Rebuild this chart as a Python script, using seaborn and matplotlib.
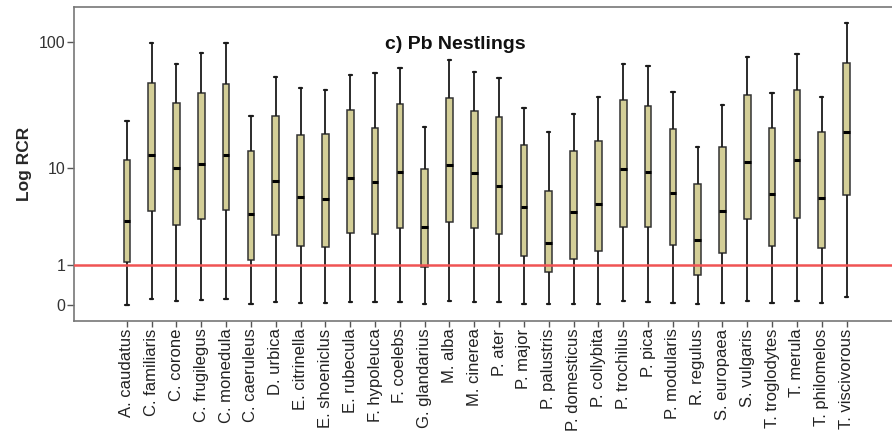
import numpy as np
import pandas as pd
import matplotlib
matplotlib.use("Agg")
import matplotlib.pyplot as plt
import seaborn as sns

species = ['A. caudatus', 'C. familiaris', 'C. corone', 'C. frugilegus', 'C. monedula',
           'C. caeruleus', 'D. urbica', 'E. citrinella', 'E. shoeniclus', 'E. rubecula',
           'F. hypoleuca', 'F. coelebs', 'G. glandarius', 'M. alba', 'M. cinerea',
           'P. ater', 'P. major', 'P. palustris', 'P. domesticus', 'P. collybita',
           'P. trochilus', 'P. pica', 'P. modularis', 'R. regulus', 'S. europaea',
           'S. vulgaris', 'T. troglodytes', 'T. merula', 'T. philomelos', 'T. viscivorous']

# five-number summaries (RCR units)
whisker_low = [0.0, 0.1, 0.07, 0.08, 0.1, 0.02, 0.05, 0.04, 0.04, 0.05,
               0.05, 0.06, 0.02, 0.07, 0.05, 0.05, 0.02, 0.01, 0.02, 0.02,
               0.07, 0.06, 0.04, 0.01, 0.03, 0.07, 0.04, 0.07, 0.04, 0.15]
q1 = [1.12, 4.2, 3.05, 3.5, 4.33, 1.2, 2.42, 1.83, 1.75, 2.56,
      2.5, 2.85, 0.93, 3.3, 2.87, 2.46, 1.37, 0.78, 1.24, 1.57,
      2.96, 2.96, 1.87, 0.69, 1.49, 3.5, 1.82, 3.6, 1.7, 5.9]
median = [3.4, 13.0, 10.0, 10.8, 13.0, 3.94, 7.8, 5.6, 5.44, 8.26,
          7.7, 9.3, 2.9, 10.75, 9.1, 7.1, 4.6, 1.99, 4.15, 4.87,
          9.9, 9.3, 6.1, 2.13, 4.2, 11.3, 6.0, 11.8, 5.5, 19.9]
q3 = [11.8, 48.6, 33.7, 40.4, 47.8, 14.0, 26.7, 18.8, 19.0, 29.7,
      21.4, 33.3, 9.9, 36.7, 29.2, 26.0, 15.7, 6.4, 13.95, 16.8,
      35.6, 32.0, 21.0, 7.4, 14.96, 39.2, 21.5, 42.4, 19.8, 68.8]
whisker_high = [24.2, 99.2, 67.5, 83.0, 98.0, 26.7, 53.6, 44.0, 42.9, 56.0,
                58.0, 62.9, 21.8, 72.5, 59.2, 53.2, 31.0, 19.9, 27.8, 37.4,
                67.5, 65.5, 41.4, 15.1, 32.7, 77.3, 40.4, 80.7, 37.4, 139.8]

y_ticks = [0, 1, 10, 100]

rows = []
for i, sp in enumerate(species):
    for v in (whisker_low[i], q1[i], median[i], q3[i], whisker_high[i]):
        rows.append({'Species': sp, 'RCR': v})
df = pd.DataFrame(rows)

sns.set_style("ticks")
plt.rcParams['font.family'] = ['Liberation Sans', 'DejaVu Sans']

fig = plt.figure(figsize=(8.92, 4.42), dpi=100)
ax = fig.add_axes([0.0824, 0.2738, 0.9176, 0.711])

# axis is log10(RCR + 1)
ax.set_yscale('function', functions=(lambda v: np.log10(np.maximum(v + 1, 1e-9)),
                                     lambda v: 10 ** v - 1))

sns.boxplot(data=df, x='Species', y='RCR', order=species, ax=ax,
            color='#d3ce97', saturation=1, width=0.27, whis=(0, 100),
            linecolor='#333333', linewidth=1.1, fliersize=0,
            medianprops={'color': 'black', 'linewidth': 2.2},
            whiskerprops={'color': '#1a1a1a', 'linewidth': 1.3},
            capprops={'color': '#1a1a1a', 'linewidth': 1.6})

ax.axhline(1, color='#f05454', linewidth=1.8, zorder=5)

ax.set_xlim(-2.15, 30.83)
ax.set_ylim(-0.247, 187.5)
ax.set_yticks(y_ticks)
ax.set_yticklabels([str(t) for t in y_ticks])
ax.yaxis.set_minor_locator(matplotlib.ticker.NullLocator())

ax.set_xlabel('')
ax.set_ylabel('Log RCR', fontsize=12.5, fontweight='bold', labelpad=5)
ax.tick_params(axis='x', rotation=90, labelsize=12, length=4.5, width=1,
               color='#555555', labelcolor='#222222', pad=1)
ax.tick_params(axis='y', labelsize=11.5, length=5, width=1,
               color='#555555', labelcolor='#333333', pad=1)

for side in ['left', 'top', 'bottom']:
    ax.spines[side].set_color('#777777')
    ax.spines[side].set_linewidth(1.2)
ax.spines['right'].set_visible(False)

ax.text(0.467, 0.88, 'c) Pb Nestlings', transform=ax.transAxes,
        ha='center', va='center', fontsize=14, fontweight='bold', color='#111111')

plt.savefig('out.png', dpi=100)
